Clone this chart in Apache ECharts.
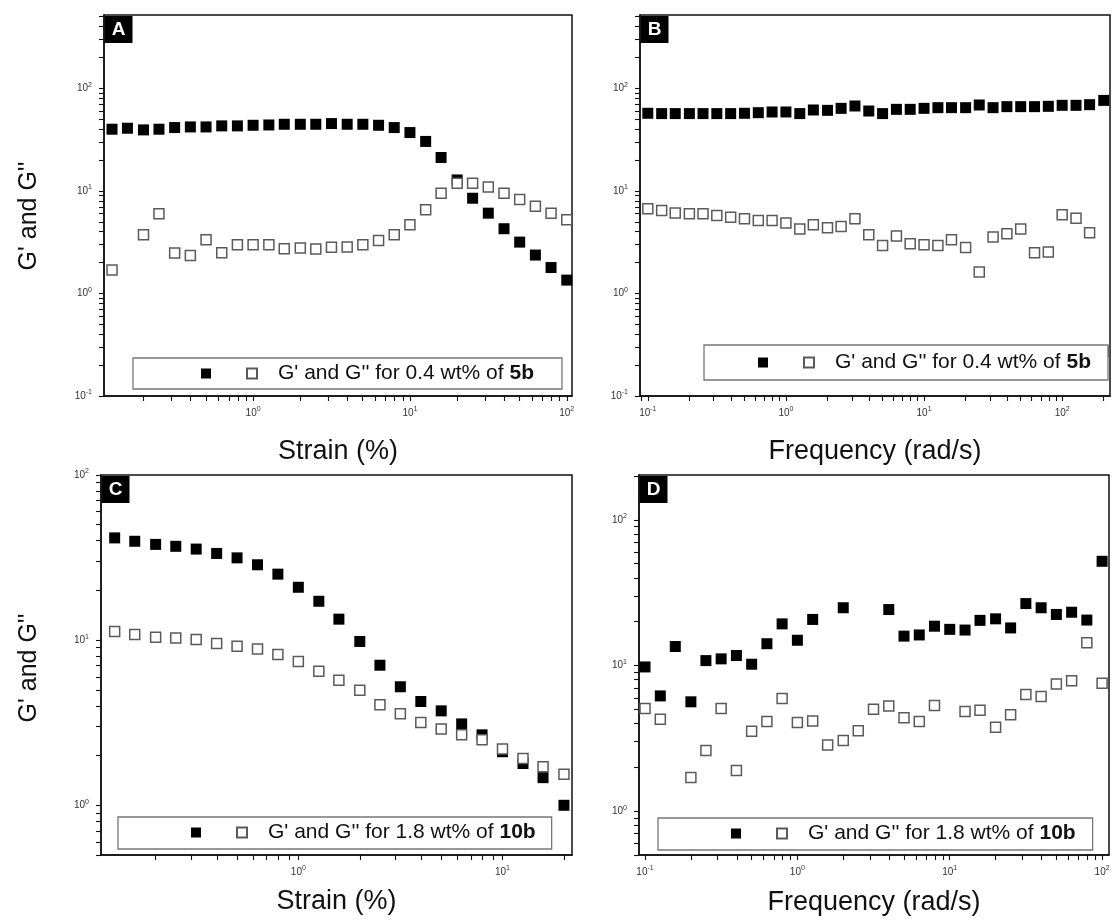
<!DOCTYPE html>
<html><head><meta charset="utf-8">
<script src="https://cdn.jsdelivr.net/npm/echarts@6/dist/echarts.min.js"></script>
<style>html,body{margin:0;padding:0;background:#fff}#c{width:1115px;height:923px}</style>
</head><body><div id="c"></div>
<script>
// ---------- data ----------
const strainA = [0.126,0.158,0.2,0.251,0.316,0.398,0.501,0.631,0.794,1,1.26,1.58,2,2.51,3.16,3.98,5.01,6.31,7.94,10,12.6,15.8,20,25.1,31.6,39.8,50.1,63.1,79.4,100];
const gpA  = [40.0,40.9,39.4,40.0,41.5,42.1,42.1,43.1,43.1,43.7,44.0,44.7,44.7,44.7,45.4,44.7,44.7,43.7,41.5,37.1,30.4,21.2,12.8,8.49,6.07,4.28,3.17,2.37,1.79,1.35];
const gppA = [1.69,null,3.74,5.98,2.48,2.34,3.34,2.50,2.99,2.99,2.99,2.73,2.77,2.71,2.82,2.84,2.99,3.29,3.74,4.68,6.54,9.49,11.9,11.9,10.9,9.49,8.24,7.10,6.07,5.23];

const freqB = [0.1,0.126,0.158,0.2,0.251,0.316,0.398,0.501,0.631,0.794,1,1.26,1.58,2,2.51,3.16,3.98,5.01,6.31,7.94,10,12.6,15.8,20,25.1,31.6,39.8,50.1,63.1,79.4,100,126,158,200];
const gpB  = [57.2,56.8,56.8,56.8,56.8,56.8,56.8,57.2,58.0,58.9,58.9,56.8,61.6,61.1,63.9,67.4,60.2,56.8,62.5,62.5,63.9,64.9,64.9,64.9,68.9,64.9,66.4,66.4,66.4,66.9,68.4,68.4,69.4,76.4];
const gppB = [6.69,6.44,6.11,5.98,5.98,5.76,5.55,5.35,5.15,5.15,4.86,4.25,4.68,4.37,4.51,5.35,3.74,2.94,3.63,3.06,2.99,2.94,3.34,2.80,1.62,3.55,3.82,4.25,2.50,2.54,5.85,5.43,3.91,0.27];

const strainC = [0.126,0.158,0.2,0.251,0.316,0.398,0.501,0.631,0.794,1,1.26,1.58,2,2.51,3.16,3.98,5.01,6.31,7.94,10,12.6,15.8,20];
const gpC  = [41.6,39.7,38.0,37.0,35.6,33.5,31.5,28.6,25.1,20.9,17.2,13.4,9.82,7.05,5.22,4.25,3.73,3.11,2.67,2.11,1.79,1.47,1.0];
const gppC = [11.3,10.8,10.4,10.3,10.1,9.55,9.19,8.85,8.18,7.42,6.48,5.71,4.97,4.06,3.58,3.17,2.90,2.67,2.49,2.19,1.92,1.71,1.54];

const freqD = [0.1,0.126,0.158,0.2,0.251,0.316,0.398,0.501,0.631,0.794,1,1.26,1.58,2,2.51,3.16,3.98,5.01,6.31,7.94,10,12.6,15.8,20,25.1,31.6,39.8,50.1,63.1,79.4,100];
const gpD  = [9.77,6.18,13.5,5.63,10.8,11.1,11.7,10.2,14.1,19.3,14.9,20.7,null,24.9,null,null,24.2,15.9,16.2,18.6,17.7,17.5,20.4,20.9,18.1,26.6,24.9,22.4,23.2,20.5,51.9];
const gppD = [5.07,4.28,null,1.70,2.61,5.07,1.90,3.53,4.13,5.93,4.06,4.15,2.84,3.06,3.56,5.01,5.28,4.37,4.13,5.31,null,4.83,4.93,3.76,4.59,6.31,6.12,7.47,7.87,14.3,7.55];

const panelLetters = ['A','B','C','D'];
const xTitles = ['Strain (%)','Frequency (rad/s)','Strain (%)','Frequency (rad/s)'];
const yTitle = "G' and G''";
const legendTexts = ["G' and G'' for 0.4 wt% of ", "G' and G'' for 0.4 wt% of ", "G' and G'' for 1.8 wt% of ", "G' and G'' for 1.8 wt% of "];
const legendBold = ['5b','5b','10b','10b'];

// ---------- helpers ----------
const FONT = 'Liberation Sans, Arial, sans-serif';
const pairs = (xs, ys) => xs.map((x, i) => [x, ys[i]]).filter(p => p[1] != null);
function allLogTicks(min, max) {
  const out = [];
  for (let e = -3; e <= 4; e++) for (let m = 1; m <= 9; m++) {
    const v = +(m * Math.pow(10, e)).toPrecision(3);
    if (v >= min && v <= max) out.push(v);
  }
  return out;
}
function powTicks(min, max) {
  const out = [];
  for (let e = -3; e <= 4; e++) { const v = +Math.pow(10, e).toPrecision(3); if (v >= min * 0.999 && v <= max * 1.001) out.push(v); }
  return out;
}
const supFmt = v => '{b|10}{s|' + Math.round(Math.log10(v)) + '}';
const RICH = {
  b: {fontSize: 10, color: '#333', fontFamily: FONT, lineHeight: 14},
  s: {fontSize: 7, color: '#333', fontFamily: FONT, verticalAlign: 'top', lineHeight: 8}
};

const grids = [
  {left: 104, top: 15, width: 468, height: 381},
  {left: 640, top: 15, width: 470, height: 381},
  {left: 101, top: 475, width: 471, height: 380},
  {left: 639, top: 475, width: 470, height: 380}
];
const xRanges = [[0.112, 108], [0.0878, 222], [0.108, 21.9], [0.0913, 111]];
const yRanges = [[0.1, 520], [0.1, 520], [0.5, 100], [0.5, 203]];
const xNameGaps = [42, 42, 33, 34];

function axisCommon(min, max) {
  return {
    type: 'log', logBase: 10, min, max,
    axisLine: {show: true, onZero: false, lineStyle: {color: '#111', width: 1.5}},
    axisTick: {show: true, inside: false, length: 5, lineStyle: {color: '#111', width: 1.1}, customValues: allLogTicks(min, max)},
    axisLabel: {show: true, customValues: powTicks(min, max), formatter: supFmt, rich: RICH, color: '#333', fontSize: 10, fontFamily: FONT},
    splitLine: {show: false}, minorTick: {show: false}
  };
}
const xAxes = grids.map((g, i) => Object.assign(axisCommon(xRanges[i][0], xRanges[i][1]), {
  gridIndex: i, name: xTitles[i], nameLocation: 'middle', nameGap: xNameGaps[i],
  nameTextStyle: {fontSize: 27, color: '#111', fontFamily: FONT}
}));
xAxes.forEach(a => a.axisLabel.margin = 10);
const yAxes = grids.map((g, i) => Object.assign(axisCommon(yRanges[i][0], yRanges[i][1]), {gridIndex: i}));
yAxes.forEach(a => a.axisLabel.margin = 12);

const seriesSets = [[strainA, gpA, gppA], [freqB, gpB, gppB], [strainC, gpC, gppC], [freqD, gpD, gppD]];
const series = [];
seriesSets.forEach((s, i) => {
  series.push({type: 'scatter', name: panelLetters[i] + "G'", xAxisIndex: i, yAxisIndex: i, symbol: 'rect', symbolSize: 11,
    itemStyle: {color: '#000', opacity: 1}, data: pairs(s[0], s[1]), z: 2, emphasis: {disabled: true}});
  series.push({type: 'scatter', name: panelLetters[i] + "G''", xAxisIndex: i, yAxisIndex: i, symbol: 'rect', symbolSize: 10,
    itemStyle: {color: '#fff', borderColor: '#5a5a5a', borderWidth: 1.5, opacity: 1}, data: pairs(s[0], s[2]), z: 3, emphasis: {disabled: true}});
});

const legendBoxes = [
  {left: 133, top: 358, pad: [5, 28, 5, 68]},
  {left: 704, top: 345, pad: [7, 17, 7, 54]},
  {left: 118, top: 817, pad: [5, 16, 6, 73]},
  {left: 658, top: 818, pad: [5, 17, 6, 73]}
];
const legends = legendBoxes.map((b, i) => {
  const names = [panelLetters[i] + "G'", panelLetters[i] + "G''"];
  return {
    data: names, left: b.left, top: b.top, orient: 'horizontal', itemWidth: 10, itemHeight: 10, itemGap: 35,
    selectedMode: false, padding: b.pad, backgroundColor: '#fff', borderColor: '#777', borderWidth: 1.3,
    formatter: n => n === names[0] ? '' : '{sp| }{t|' + legendTexts[i] + '}{bb|' + legendBold[i] + '}',
    textStyle: {fontFamily: FONT, rich: {
      sp: {width: 16},
      t: {fontSize: 21, color: '#111', fontFamily: FONT},
      bb: {fontSize: 21, color: '#111', fontWeight: 'bold', fontFamily: FONT}
    }}
  };
});

const graphic = [];
grids.forEach((g, i) => {
  graphic.push({type: 'group', x: g.left + 0.5, y: g.top + 1, z: 10, children: [
    {type: 'rect', shape: {x: 0, y: 0, width: 28, height: 27}, style: {fill: '#000'}},
    {type: 'text', x: 14, y: 14, style: {text: panelLetters[i], fill: '#fff', font: 'bold 19px ' + FONT, align: 'center', verticalAlign: 'middle'}}
  ]});
});
[216, 668].forEach(cy => graphic.push({type: 'text', x: 29, y: cy, rotation: Math.PI / 2,
  style: {text: yTitle, fill: '#111', font: '25px ' + FONT, align: 'center', verticalAlign: 'middle'}}));

const chart = echarts.init(document.getElementById('c'), null, {renderer: 'canvas'});
chart.setOption({
  animation: false,
  backgroundColor: '#fff',
  grid: grids.map(g => Object.assign({show: true, borderColor: '#111', borderWidth: 1.5, backgroundColor: 'transparent'}, g)),
  xAxis: xAxes, yAxis: yAxes, series, legend: legends, graphic
});
</script></body></html>
